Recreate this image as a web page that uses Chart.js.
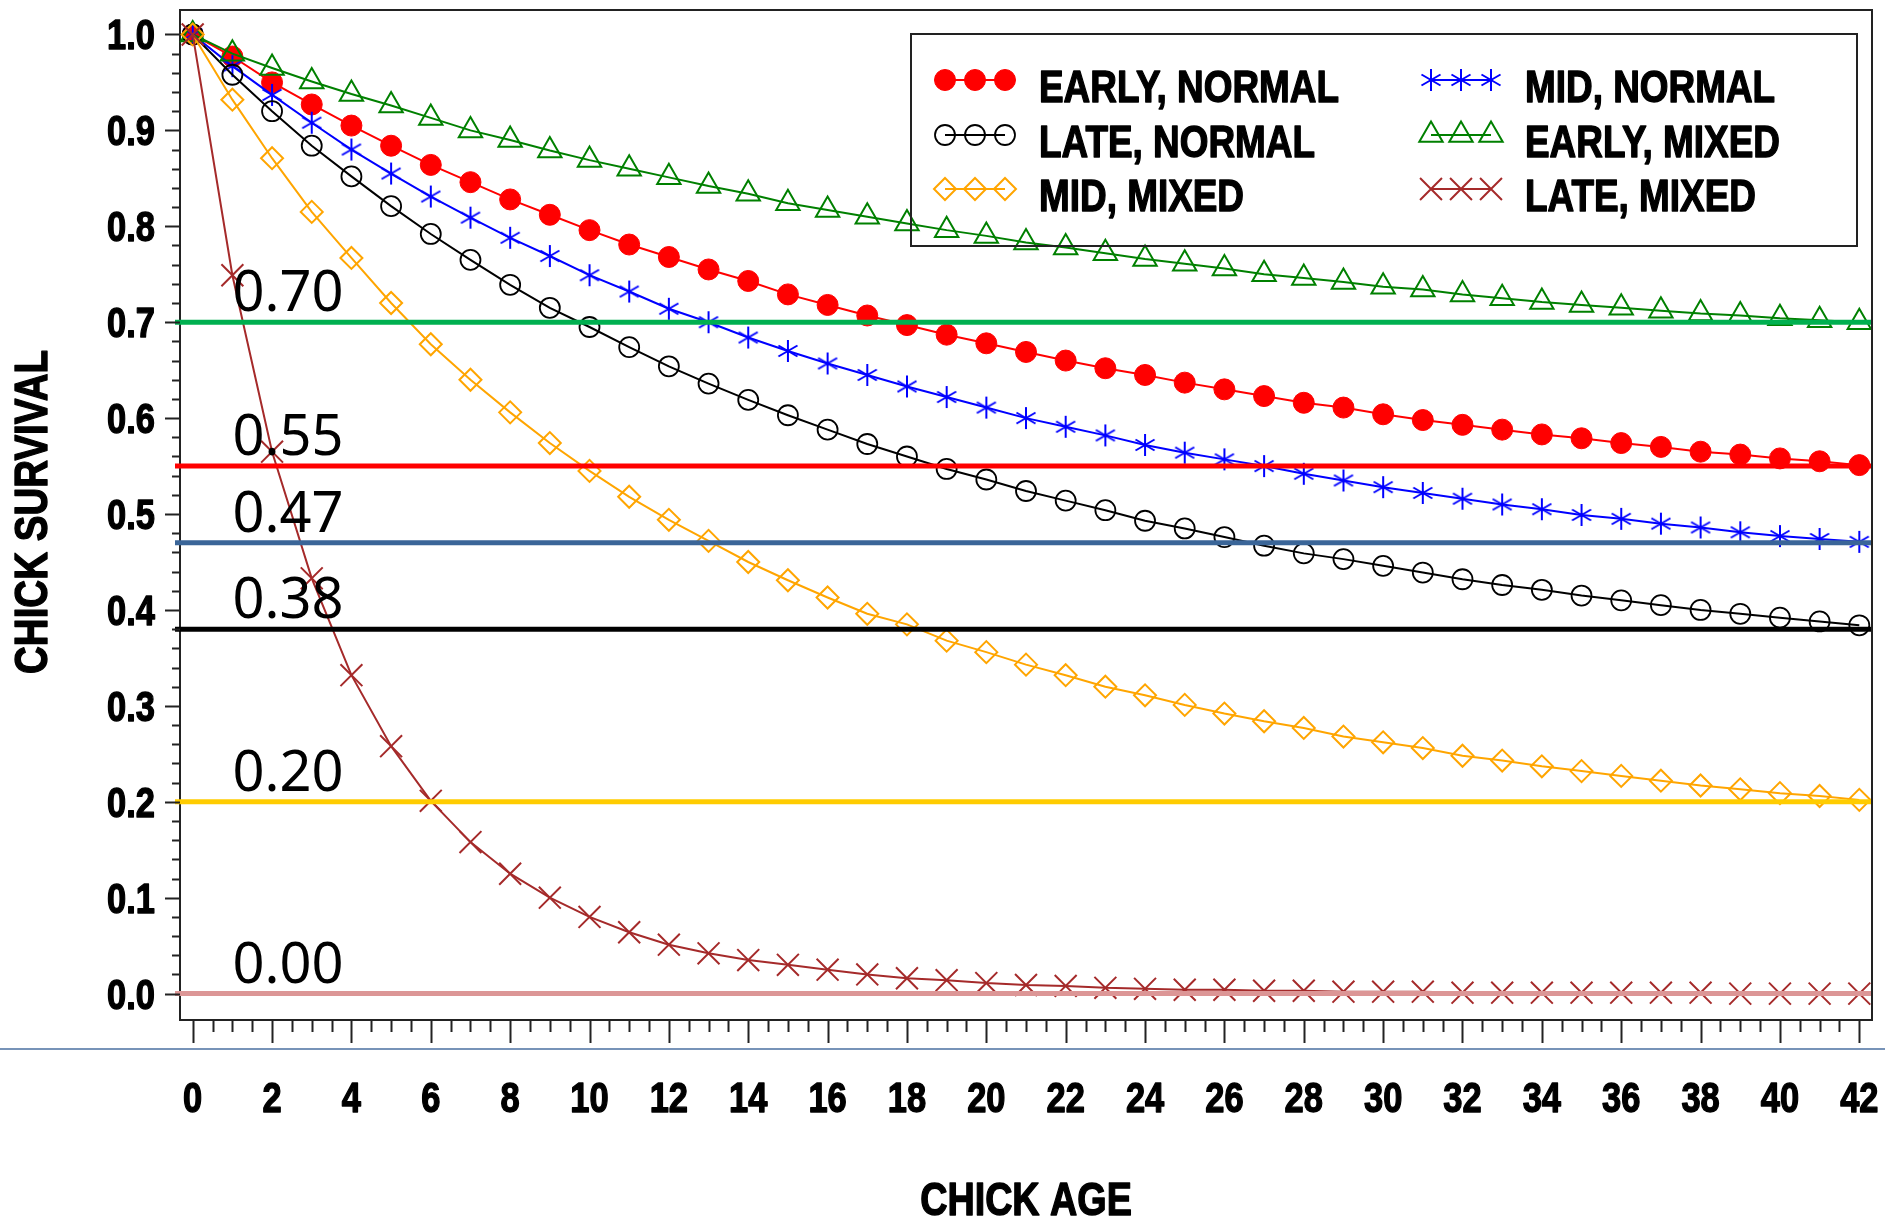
<!DOCTYPE html>
<html>
<head>
<meta charset="utf-8">
<title>Chick survival</title>
<script src="https://cdn.jsdelivr.net/npm/chart.js@4.4.1/dist/chart.umd.min.js"></script>
<style>
  html, body { margin: 0; padding: 0; background: #ffffff; }
  #wrap { width: 1885px; height: 1218px; position: relative; }
</style>
</head>
<body>
<div id="wrap"><canvas id="survivalChart" width="1885" height="1218"></canvas></div>
<script>
"use strict";

// chick age (days)
var days = [0, 1, 2, 3, 4, 5, 6, 7, 8, 9, 10, 11, 12, 13, 14, 15, 16, 17, 18, 19, 20,
	21, 22, 23, 24, 25, 26, 27, 28, 29, 30, 31, 32, 33, 34, 35, 36, 37, 38, 39, 40, 41, 42];

// cumulative survival for each hatch timing / brood type
var earlyNormal = [1.000, 0.977, 0.950, 0.927, 0.905, 0.884, 0.864, 0.846, 0.828, 0.812, 0.796,
	0.781, 0.768, 0.755, 0.743, 0.729, 0.718, 0.707, 0.697, 0.687, 0.678,
	0.669, 0.660, 0.652, 0.645, 0.637, 0.630, 0.623, 0.616, 0.611, 0.604,
	0.598, 0.593, 0.588, 0.583, 0.579, 0.574, 0.570, 0.565, 0.562, 0.558, 0.555, 0.551];
var midNormal = [1.000, 0.967, 0.937, 0.908, 0.880, 0.855, 0.831, 0.809, 0.788, 0.769, 0.749,
	0.732, 0.714, 0.700, 0.684, 0.670, 0.657, 0.645, 0.633, 0.622, 0.611,
	0.600, 0.591, 0.582, 0.572, 0.564, 0.557, 0.550, 0.542, 0.535, 0.528,
	0.522, 0.516, 0.510, 0.505, 0.499, 0.495, 0.490, 0.486, 0.481, 0.477, 0.474, 0.471];
var lateNormal = [1.000, 0.958, 0.920, 0.884, 0.852, 0.821, 0.792, 0.765, 0.739, 0.715, 0.695,
	0.674, 0.654, 0.636, 0.619, 0.603, 0.588, 0.573, 0.560, 0.547, 0.536,
	0.524, 0.514, 0.504, 0.493, 0.485, 0.476, 0.467, 0.459, 0.453, 0.446,
	0.439, 0.432, 0.426, 0.421, 0.415, 0.410, 0.405, 0.400, 0.396, 0.392, 0.388, 0.384];
var earlyMixed = [1.000, 0.980, 0.965, 0.951, 0.938, 0.926, 0.913, 0.900, 0.890, 0.879, 0.869,
	0.860, 0.851, 0.842, 0.834, 0.824, 0.817, 0.810, 0.803, 0.796, 0.790,
	0.783, 0.778, 0.772, 0.766, 0.761, 0.756, 0.750, 0.746, 0.742, 0.737,
	0.734, 0.729, 0.725, 0.721, 0.718, 0.715, 0.712, 0.709, 0.707, 0.704, 0.702, 0.700];
var midMixed = [1.000, 0.932, 0.871, 0.815, 0.767, 0.720, 0.677, 0.640, 0.606, 0.574, 0.545,
	0.518, 0.494, 0.472, 0.450, 0.431, 0.413, 0.396, 0.385, 0.368, 0.356,
	0.343, 0.332, 0.320, 0.311, 0.301, 0.292, 0.284, 0.277, 0.268, 0.262,
	0.256, 0.248, 0.243, 0.237, 0.232, 0.227, 0.222, 0.217, 0.213, 0.209, 0.206, 0.202];
var lateMixed = [1.000, 0.749, 0.565, 0.433, 0.332, 0.258, 0.201, 0.158, 0.125, 0.100, 0.080,
	0.064, 0.051, 0.042, 0.035, 0.030, 0.025, 0.020, 0.016, 0.014, 0.011,
	0.009, 0.008, 0.006, 0.005, 0.004, 0.004, 0.003, 0.003, 0.002, 0.002,
	0.002, 0.001, 0.001, 0.001, 0.001, 0.001, 0.001, 0.001, 0.000, 0.000, 0.000, 0.000];

var seriesNames = ['EARLY, NORMAL', 'MID, NORMAL', 'LATE, NORMAL', 'EARLY, MIXED', 'MID, MIXED', 'LATE, MIXED'];
var seriesValues = [earlyNormal, midNormal, lateNormal, earlyMixed, midMixed, lateMixed];

// survival at day 42, drawn as horizontal reference lines
var refValues = [0.70, 0.55, 0.47, 0.38, 0.20, 0.00];

// tick labels and axis titles
var xTickValues = [0, 2, 4, 6, 8, 10, 12, 14, 16, 18, 20, 22, 24, 26, 28, 30, 32, 34, 36, 38, 40, 42];
var yTickValues = [0.0, 0.1, 0.2, 0.3, 0.4, 0.5, 0.6, 0.7, 0.8, 0.9, 1.0];
var xTitle = 'CHICK AGE';
var yTitle = 'CHICK SURVIVAL';

// styling
var seriesColors = ['#ff0000', '#0000ff', '#000000', '#008000', '#ffa500', '#a52a2a'];
var refColors = ['#00b050', '#ff0000', '#3a6598', '#000000', '#ffcc00', '#dc9696'];
var boldFamily = "'Liberation Sans', Arial, sans-serif";
var narrowScale = 0.82;
var frameColor = '#222222';

// bold sans squeezed horizontally and a little heavier; y is the glyph centre line
function DrawNarrowText(ctx, text, x, y, size, align, vertical) {
	ctx.save();
	ctx.translate(x, y);
	if (vertical) {
		ctx.rotate(-Math.PI / 2);
	}
	ctx.scale(narrowScale, 1);
	ctx.font = 'bold ' + size + 'px ' + boldFamily;
	ctx.fillStyle = '#000000';
	ctx.strokeStyle = '#000000';
	ctx.lineWidth = 1.4;
	ctx.lineJoin = 'round';
	ctx.textAlign = align;
	ctx.textBaseline = 'alphabetic';
	ctx.fillText(text, 0, size * 0.358);
	ctx.strokeText(text, 0, size * 0.358);
	ctx.restore();
}

// six-spoke asterisk used for the MID, NORMAL markers
function makeAsterisk(color, size) {
	var c = document.createElement('canvas');
	c.width = size;
	c.height = size;
	var g = c.getContext('2d');
	var m = size / 2, r = size / 2 - 1;
	g.strokeStyle = color;
	g.lineWidth = 2;
	g.beginPath();
	[90, 30, -30].forEach(function (deg) {
		var a = deg * Math.PI / 180;
		g.moveTo(m - r * Math.cos(a), m - r * Math.sin(a));
		g.lineTo(m + r * Math.cos(a), m + r * Math.sin(a));
	});
	g.stroke();
	return c;
}

var markerStyles = ['circle', makeAsterisk('#0000ff', 24), 'circle', 'triangle', 'rectRot', 'crossRot'];
var markerRadius = [10.5, 11, 10, 13.5, 11, 15.5];
var markerFill = ['#ff0000', 'rgba(0,0,0,0)', 'rgba(0,0,0,0)', 'rgba(0,0,0,0)', 'rgba(0,0,0,0)', 'rgba(0,0,0,0)'];
var markerBorder = [1, 2, 1.8, 2, 2, 2];

function BuildDatasets() {
	return seriesNames.map(function (name, i) {
		return {
			label: name,
			data: days.map(function (d, k) { return { x: d, y: seriesValues[i][k] }; }),
			borderColor: seriesColors[i],
			borderWidth: 2,
			pointStyle: markerStyles[i],
			pointRadius: markerRadius[i],
			pointBackgroundColor: markerFill[i],
			pointBorderColor: seriesColors[i],
			pointBorderWidth: markerBorder[i],
			tension: 0,
			fill: false,
			clip: false,
			// later series sit on top
			order: seriesNames.length - i
		};
	});
}

// closes the frame, draws major / minor tick marks, tick labels and titles
var framePlugin = {
	id: 'frameTicks',
	afterDraw: function (chart) {
		var ctx = chart.ctx, a = chart.chartArea;
		var xs = chart.scales.x, ys = chart.scales.y;
		ctx.save();
		ctx.strokeStyle = frameColor;
		ctx.lineWidth = 2;
		ctx.beginPath();
		ctx.moveTo(a.left, a.top);
		ctx.lineTo(a.right, a.top);
		ctx.lineTo(a.right, a.bottom);
		ctx.stroke();

		ctx.beginPath();
		for (var i = 0; i <= 50; i++) {
			var py = Math.round(ys.getPixelForValue(i * 0.02)) + 0.5;
			var len = (i % 5 === 0) ? 15 : 8;
			ctx.moveTo(a.left - len, py);
			ctx.lineTo(a.left, py);
		}
		for (var j = 0; j <= 84; j++) {
			var px = Math.round(xs.getPixelForValue(j * 0.5)) + 0.5;
			var tl = (j % 4 === 0) ? 23 : 12;
			ctx.moveTo(px, a.bottom);
			ctx.lineTo(px, a.bottom + tl);
		}
		ctx.stroke();

		// thin rule under the tick marks
		ctx.strokeStyle = '#4a6fa0';
		ctx.lineWidth = 1.5;
		ctx.beginPath();
		ctx.moveTo(0, a.bottom + 29);
		ctx.lineTo(chart.width, a.bottom + 29);
		ctx.stroke();
		ctx.restore();

		yTickValues.forEach(function (v) {
			DrawNarrowText(ctx, v.toFixed(1), a.left - 25, ys.getPixelForValue(v), 42, 'right', false);
		});
		xTickValues.forEach(function (v) {
			DrawNarrowText(ctx, String(v), xs.getPixelForValue(v), a.bottom + 77, 42, 'center', false);
		});
		DrawNarrowText(ctx, xTitle, (a.left + a.right) / 2, a.bottom + 179, 46, 'center', false);
		DrawNarrowText(ctx, yTitle, 30, (a.top + a.bottom) / 2 - 3, 47, 'center', true);
	}
};

// reference lines with their value printed above
var refLinePlugin = {
	id: 'refLines',
	afterDatasetsDraw: function (chart) {
		var ctx = chart.ctx, a = chart.chartArea;
		var xs = chart.scales.x, ys = chart.scales.y;
		var labelX = xs.getPixelForValue(1);
		ctx.save();
		refValues.forEach(function (v, i) {
			var py = ys.getPixelForValue(v);
			ctx.strokeStyle = refColors[i];
			ctx.lineWidth = 5;
			ctx.beginPath();
			ctx.moveTo(a.left - 5, py);
			ctx.lineTo(a.right, py);
			ctx.stroke();
			ctx.fillStyle = '#000000';
			ctx.font = "56px 'Noto Sans'";
			ctx.textAlign = 'left';
			ctx.textBaseline = 'alphabetic';
			ctx.fillText(v.toFixed(2), labelX, py - 11);
		});
		ctx.restore();
	}
};

// boxed legend, two columns, three sample markers per entry
var legendPlugin = {
	id: 'boxLegend',
	afterDatasetsDraw: function (chart) {
		var ctx = chart.ctx, a = chart.chartArea;
		var boxW = 946, boxH = 212;
		var left = a.right - 15 - boxW, top = a.top + 24;
		var colOffsets = [34, 520];
		var rowOffsets = [46, 101, 155];
		ctx.save();
		ctx.strokeStyle = frameColor;
		ctx.lineWidth = 2;
		ctx.strokeRect(left, top, boxW, boxH);

		chart.data.datasets.forEach(function (ds, i) {
			var cx = left + colOffsets[i % 2];
			var cy = top + rowOffsets[Math.floor(i / 2)];
			ctx.strokeStyle = ds.borderColor;
			ctx.lineWidth = 2;
			ctx.beginPath();
			ctx.moveTo(cx, cy);
			ctx.lineTo(cx + 60, cy);
			ctx.stroke();
			for (var k = 0; k < 3; k++) {
				ctx.fillStyle = ds.pointBackgroundColor;
				ctx.strokeStyle = ds.pointBorderColor;
				ctx.lineWidth = ds.pointBorderWidth;
				Chart.helpers.drawPoint(ctx, {
					pointStyle: ds.pointStyle,
					radius: ds.pointRadius,
					rotation: 0,
					borderWidth: ds.pointBorderWidth
				}, cx + k * 30, cy);
			}
			DrawNarrowText(ctx, ds.label, cx + 94, cy + 6, 45, 'left', false);
		});
		ctx.restore();
	}
};

var survivalChart = new Chart(document.getElementById('survivalChart'), {
	type: 'line',
	data: { datasets: BuildDatasets() },
	options: {
		responsive: false,
		animation: false,
		devicePixelRatio: 1,
		layout: { autoPadding: false, padding: { top: 10, right: 13, left: 0, bottom: 0 } },
		plugins: {
			legend: { display: false },
			tooltip: { enabled: false }
		},
		scales: {
			x: {
				type: 'linear',
				min: -0.32,
				max: 42.32,
				afterBuildTicks: function (scale) {
					scale.ticks = xTickValues.map(function (v) { return { value: v }; });
				},
				afterFit: function (scale) {
					scale.height = 198;
					scale.paddingLeft = scale.paddingRight = 0;
				},
				grid: { display: false },
				border: { display: true, color: frameColor, width: 2 },
				ticks: { display: false },
				title: { display: false }
			},
			y: {
				type: 'linear',
				min: -0.0275,
				max: 1.0255,
				afterBuildTicks: function (scale) {
					scale.ticks = yTickValues.map(function (v) { return { value: v }; });
				},
				afterFit: function (scale) {
					scale.width = 180;
					scale.paddingTop = scale.paddingBottom = 0;
				},
				grid: { display: false },
				border: { display: true, color: frameColor, width: 2 },
				ticks: { display: false },
				title: { display: false }
			}
		}
	},
	plugins: [framePlugin, refLinePlugin, legendPlugin]
});
</script>
</body>
</html>
